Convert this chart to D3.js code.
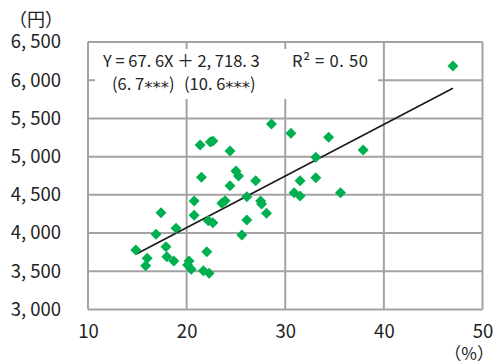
<!DOCTYPE html>
<html><head><meta charset="utf-8">
<script src="https://cdn.jsdelivr.net/npm/d3@7"></script>
<style>
html,body{margin:0;padding:0;background:#fff;}
svg{display:block;}
text{font-family:"Noto Sans CJK JP","Noto Sans",sans-serif;fill:#222;}
</style></head>
<body>
<svg id="chart" width="497" height="364"></svg>
<script>
// ---- data ----
const xValues = [28.6,21.37,22.4,22.66,24.4,25.0,25.26,21.5,27.0,24.4,20.76,23.57,23.9,26.1,27.5,27.6,28.1,20.76,17.4,22.2,22.66,26.1,18.93,25.6,16.9,14.85,17.9,22.05,16.0,18.0,18.7,15.85,20.25,20.1,20.46,21.7,22.28,30.58,34.4,37.9,33.1,31.5,33.1,30.9,31.5,35.6,47.0];
const yValues = [5428,5153,5190,5205,5075,4813,4747,4730,4686,4620,4418,4390,4424,4476,4420,4380,4259,4233,4267,4162,4136,4171,4063,3975,3984,3779,3822,3757,3670,3691,3634,3573,3635,3582,3526,3508,3474,5306,5254,5088,4992,4686,4725,4529,4486,4529,6187];
const xTicks = [10,20,30,40,50];
const xTickLabels = ["10","20","30","40","50"];
const yTicks = [3000,3500,4000,4500,5000,5500,6000,6500];
const yTickLabels = ["3, 000","3, 500","4, 000","4, 500","5, 000","5, 500","6, 000","6, 500"];
const slope = 67.6, intercept = 2718.3;
const eqLine1 = "Y = 67. 6X ＋ 2, 718. 3";
const eqR2 = "R² = 0. 50";
const eqCoefs = [["(6. 7", "***", ")"], ["(10. 6", "***", ")"]];
const yUnit = "（円）";
const xUnit = "（%）";

// ---- layout ----
const svg = d3.select("#chart");
const x = d3.scaleLinear().domain([10,50]).range([88,482.5]);
const y = d3.scaleLinear().domain([3000,6500]).range([309.5,42]);
const grid = "#a3a3a3";

// gridlines
svg.append("g").selectAll("line").data(yTicks).join("line")
  .attr("x1",x(10)).attr("x2",x(50)).attr("y1",d=>y(d)).attr("y2",d=>y(d))
  .attr("stroke",grid).attr("stroke-width",2);
svg.append("g").selectAll("line").data(xTicks).join("line")
  .attr("y1",y(3000)).attr("y2",y(6500)).attr("x1",d=>x(d)).attr("x2",d=>x(d))
  .attr("stroke",grid).attr("stroke-width",2);

// equation box
svg.append("rect").attr("x",95).attr("y",49).attr("width",283).attr("height",50).attr("fill","#fff");
svg.append("text").attr("x",103).attr("y",67).attr("font-size",16.5).text(eqLine1);
svg.append("text").attr("x",292).attr("y",67).attr("font-size",16.5).attr("textLength",76).text(eqR2);
[112, 184].forEach((px,i)=>{
  const t = svg.append("text").attr("x",px).attr("y",89.5).attr("font-size",16.5);
  t.append("tspan").text(eqCoefs[i][0]);
  t.append("tspan").attr("font-family","DejaVu Sans").attr("font-size",16.5).attr("dy",3.5).text(eqCoefs[i][1]);
  t.append("tspan").attr("dy",-3.5).text(eqCoefs[i][2]);
});

// axes tick labels
const yAxis = d3.axisLeft(y).tickValues(yTicks).tickSize(0).tickPadding(27)
  .tickFormat((d,i)=>yTickLabels[i]);
const gy = svg.append("g").attr("transform","translate(88,0)").call(yAxis);
gy.select(".domain").remove();
gy.selectAll("text").attr("font-size",18.5).attr("fill","#222").attr("font-family","Noto Sans CJK JP");

const xAxis = d3.axisBottom(x).tickValues(xTicks).tickSize(0).tickPadding(15)
  .tickFormat((d,i)=>xTickLabels[i]);
const gx = svg.append("g").attr("transform","translate(0,309.5)").call(xAxis);
gx.select(".domain").remove();
gx.selectAll("text").attr("font-size",18.5).attr("fill","#222").attr("font-family","Noto Sans CJK JP");

// trend line
const xmin = d3.min(xValues), xmax = d3.max(xValues);
svg.append("line")
  .attr("x1",x(xmin)).attr("y1",y(slope*xmin+intercept))
  .attr("x2",x(xmax)).attr("y2",y(slope*xmax+intercept))
  .attr("stroke","#1a1a1a").attr("stroke-width",1.6);

// points
const pts = xValues.map((v,i)=>({x:v,y:yValues[i]}));
svg.append("g").selectAll("path").data(pts).join("path")
  .attr("d","M0,-5.5L5.5,0L0,5.5L-5.5,0Z")
  .attr("transform",d=>`translate(${x(d.x)},${y(d.y)})`)
  .attr("fill","#00b050");

// units
svg.append("text").attr("x",36).attr("y",26).attr("text-anchor","middle").attr("font-size",18).text(yUnit);
svg.append("text").attr("x",494).attr("y",360).attr("text-anchor","end").attr("font-size",17).text(xUnit);
</script>
</body></html>
